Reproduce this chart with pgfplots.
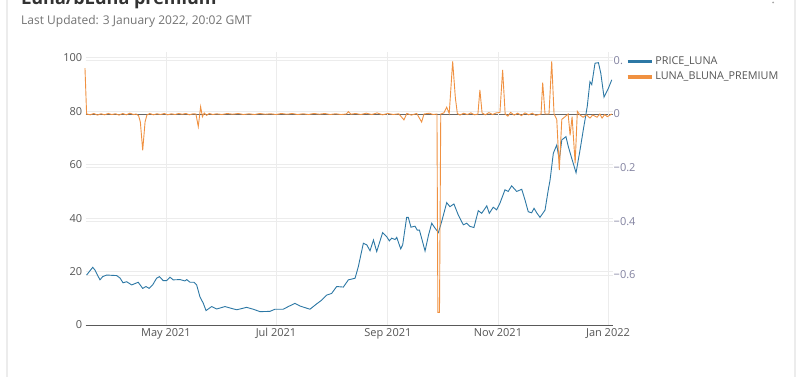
\documentclass[border=0pt]{standalone}
\usepackage{fontspec}
\setmainfont{Open Sans}
\usepackage{pgfplots}
\pgfplotsset{compat=1.18}
\definecolor{lunablue}{RGB}{45,120,165}
\definecolor{lunaorange}{RGB}{240,145,65}
\definecolor{gridc}{RGB}{236,236,236}
\definecolor{ticklab}{RGB}{85,85,85}
\definecolor{rightlab}{RGB}{130,130,160}
\begin{document}
\begin{tikzpicture}
\useasboundingbox (0pt,0pt) rectangle (800pt,377pt);
\clip (0pt,0pt) rectangle (800pt,377pt);
\fill[white] (0pt,0pt) rectangle (800pt,377pt);
\draw[gray!15, line width=1.2pt] (7pt,0pt) -- (7pt,377pt);
\draw[gray!15, line width=1.2pt] (795pt,0pt) -- (795pt,377pt);
\fill[gray!70] (773pt,374.5pt) circle (1pt);
\node[anchor=base west, inner sep=0pt, font=\fontsize{18}{20}\selectfont\bfseries, text=black!80] at (21pt,372.5pt) {Luna/bLuna premium};
\node[anchor=base west, inner sep=0pt, font=\fontsize{12}{14}\selectfont, text=black!55] at (21pt,352pt) {Last Updated: 3 January 2022, 20:02 GMT};
\pgfplotsset{
  base/.style={at={(85.7pt,52pt)}, anchor=south west, scale only axis,
    width=526.8pt, height=273pt, xmin=-44.5, xmax=247.5,
    major tick length=0pt, clip=false},
}
% Axis A: right scale grid + labels
\begin{axis}[base, ymin=-0.786, ymax=0.231,
  hide x axis, axis y line*=right, y axis line style={draw=none},
  ytick={-0.6,-0.4,-0.2,0.2}, yticklabels={−0.6,−0.4,−0.2,0.},
  extra y ticks={0}, extra y tick labels={0},
  extra y tick style={major grid style={draw=black!60, line width=0.9pt}},
  ymajorgrids, major grid style={draw=gridc, line width=0.8pt},
  yticklabel style={font=\fontsize{11}{12}\selectfont, text=rightlab, anchor=west, inner sep=1pt},
]
\end{axis}
% Axis B: price
\begin{axis}[base, ymin=0, ymax=102.2,
  axis x line*=bottom, axis y line*=left,
  y axis line style={draw=none},
  x axis line style={draw=black!65, line width=0.9pt},
  xtick={0,61,123,184,245},
  xticklabels={May 2021,Jul 2021,Sep 2021,Nov 2021,Jan 2022},
  ytick={0,20,40,60,80,100}, yticklabels={0,20,40,60,80,100},
  xmajorgrids, ymajorgrids, major grid style={draw=gridc, line width=0.8pt},
  xticklabel style={font=\fontsize{11}{12}\selectfont, text=ticklab},
  yticklabel style={font=\fontsize{11}{12}\selectfont, text=ticklab},
  legend style={at={(1.025,0.99)}, anchor=north west, draw=none, fill=none,
    font=\fontsize{10.8}{13}\selectfont, text=ticklab, inner sep=0pt, row sep=2pt},
  legend cell align=left,
  legend image code/.code={\draw[line width=3.5pt] (0pt,0pt) -- (24pt,0pt);},
]
\addplot[lunablue, line width=0.9pt] coordinates {
(-44.0,18.7) (-40.6,21.6) (-39.4,20.6) (-36.6,16.9) (-35.1,18.1) (-32.9,18.7)
(-27.3,18.5) (-25.5,17.6) (-23.8,15.8) (-21.8,16.2) (-19.0,15.0) (-15.4,16.0)
(-12.9,13.7) (-11.1,14.4) (-9.3,13.7) (-7.4,15.0) (-5.2,17.5) (-3.7,18.1)
(-1.5,16.6) (0.4,16.6) (2.2,17.9) (4.0,16.9) (7.8,17.0) (10.5,16.5) (11.5,17.0)
(13.3,16.0) (15.5,16.0) (17.0,15.0) (18.8,10.6) (20.7,8.1) (22.2,5.4) (25.3,6.9)
(28.1,6.0) (32.7,6.9) (36.4,6.2) (39.2,5.7) (44.7,6.6) (48.4,5.9) (52.1,5.0)
(57.6,5.1) (60.4,5.9) (65.0,5.9) (67.8,6.9) (71.5,8.1) (74.3,7.1) (79.8,5.9)
(83.5,7.9) (86.3,9.3) (89.1,11.2) (91.8,11.8) (94.6,14.4) (98.3,14.2) (101.1,16.9)
(104.8,17.5) (106.6,21.8) (109.4,30.6) (111.3,30.0) (113.1,27.8) (115.0,31.8)
(116.8,27.5) (120.1,34.6) (122.3,33.1) (123.8,31.5) (125.1,32.5) (127.0,32.0)
(127.9,32.8) (130.1,28.5) (131.2,30.0) (133.4,40.3) (134.3,40.3) (135.8,36.6)
(138.0,37.0) (139.3,35.5) (140.5,35.5) (143.6,27.7) (145.5,33.6) (147.3,38.1)
(149.1,36.3) (151.0,34.6) (152.8,38.7) (155.6,45.8) (157.4,44.3) (159.6,45.3)
(162.0,41.2) (164.8,37.5) (166.7,38.1) (168.5,36.9) (170.7,36.5) (173.1,42.8)
(175.0,41.8) (177.8,44.6) (179.2,41.8) (181.4,44.1) (183.3,43.1) (185.1,45.6)
(187.9,50.6) (189.7,50.0) (191.6,52.1) (194.4,50.0) (197.2,50.8) (199.0,46.8)
(200.8,42.4) (202.7,42.0) (204.0,43.7) (205.5,42.0) (207.3,40.3) (210.1,43.0)
(211.9,50.6) (212.9,54.3) (214.7,64.3) (216.6,67.4) (218.0,61.8) (219.4,69.3)
(221.7,70.5) (223.0,66.8) (224.9,62.4) (227.3,57.0) (229.5,65.5) (231.3,73.0)
(233.5,81.8) (235.0,91.1) (236.0,90.0) (237.8,98.0) (239.7,98.2) (241.0,94.3)
(242.8,85.3) (245.2,88.6) (247.1,91.8)
};
\addlegendentry{PRICE\_LUNA}
\addlegendimage{lunaorange}
\addlegendentry{LUNA\_BLUNA\_PREMIUM}
\end{axis}
% Axis C: premium
\begin{axis}[base, ymin=-0.786, ymax=0.231, hide axis]
\addplot[lunaorange, line width=0.9pt] coordinates {
(-44.9,0.171) (-44.0,0.0) (-42,-0.003) (-40,0.002) (-38,-0.004) (-36,0.001)
(-34,-0.003) (-32,0.002) (-30,-0.002) (-28,0.001) (-26,-0.004) (-24,0.002)
(-22,-0.003) (-20,0.003) (-18,-0.002) (-16.5,0.0) (-15.2,-0.006) (-14.2,-0.03)
(-12.9,-0.135) (-11.6,-0.03) (-10.6,-0.004) (-9,0.002) (-7,-0.003) (-5,0.001)
(-3,-0.002) (-1,0.002) (1,-0.003) (3,0.001) (5,-0.002) (7,0.002) (9,-0.001)
(11,0.002) (13,-0.003) (15,0.001) (16.6,0.0) (17.9,-0.047) (19.2,0.027)
(20.2,-0.01) (21.2,0.004) (22.5,-0.005) (24,0.002) (26,-0.002) (28,0.001)
(31,-0.002) (34,0.002) (37,-0.001) (40,0.002) (43,-0.002) (46,0.001) (49,-0.002)
(52,0.002) (55,-0.001) (58,0.001) (61,-0.002) (64,0.002) (67,-0.001) (70,0.002)
(73,-0.002) (76,0.001) (79,-0.002) (82,0.002) (85,-0.001) (88,0.002) (91,-0.002)
(94,0.001) (97,-0.002) (100,0.0) (101.1,0.009) (102.5,-0.001) (105,0.002)
(108,-0.002) (111,0.003) (114,-0.002) (117,0.004) (120,-0.003) (123,0.002)
(126,-0.002) (129,0.001) (131.9,-0.022) (133.5,0.002) (136,-0.004) (139,0.002)
(141.7,-0.03) (143,0.0) (146,0.003) (148,-0.002) (150.2,0.0) (150.7,-0.739)
(151.6,-0.739) (152.3,0.0) (154,0.004) (155.6,0.025) (157.0,0.002) (158.9,0.196)
(160.4,0.06) (161.5,0.002) (163,-0.004) (165,0.003) (167,-0.002) (169,0.004)
(171,-0.003) (172.9,0.0) (174.0,0.09) (175.2,0.004) (177,-0.003) (179,0.005)
(181,-0.002) (183,0.004) (185.1,0.006) (186.6,0.164) (188.0,0.0) (189.5,-0.008)
(191,0.006) (193,-0.004) (195,0.003) (197,-0.006) (199,0.004) (201,-0.003)
(203,0.003) (205,-0.005) (207.9,0.0) (208.8,0.117) (210.1,0.0) (212.3,0.0)
(213.8,0.196) (215.1,0.0) (216.6,-0.02) (218.0,-0.209) (219.4,-0.02) (221.2,-0.01)
(222.9,0.0) (224.0,-0.079) (225.1,-0.01) (226.8,-0.184) (228.0,0.01) (229.5,-0.004)
(231.2,-0.012) (233,-0.003) (235.0,-0.015) (236.5,-0.004) (238.9,-0.012)
(240.5,0.0) (241.7,-0.015) (243.2,-0.002) (244.6,-0.01) (247.1,0.0)
};
\end{axis}
\end{tikzpicture}
\end{document}
